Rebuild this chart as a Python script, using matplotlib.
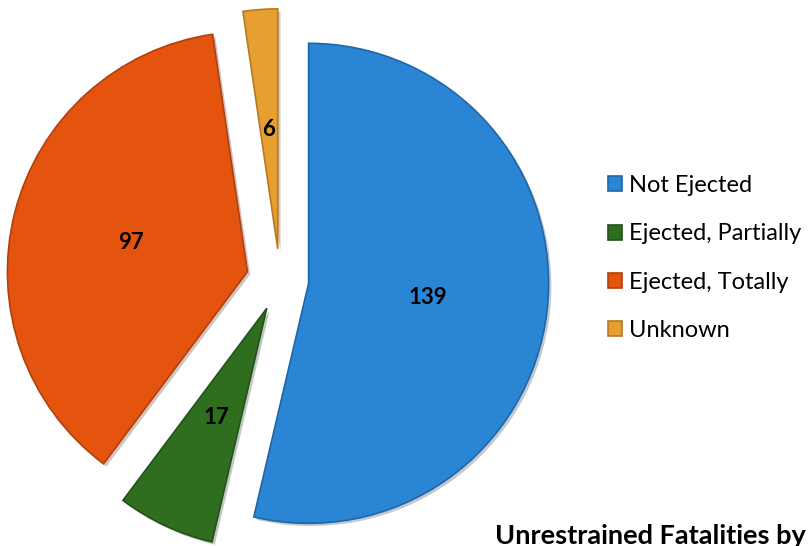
import matplotlib
matplotlib.use('Agg')
import matplotlib.pyplot as plt
import matplotlib.patheffects as pe

plt.rcParams['font.family'] = ['Lato', 'DejaVu Sans']

# 데이터
labels = ['Not Ejected', 'Ejected, Partially', 'Ejected, Totally', 'Unknown']
counts = [139, 17, 97, 6]
colors = ['#2a86d5', '#2f6d1f', '#e5540f', '#e7a030']
edges = ['#1f66a8', '#22521a', '#b2400c', '#b57a22']
explode = [0.12, 0.13, 0.14, 0.13]

R = 240  # 반지름(픽셀)

fig = plt.figure(figsize=(8.11, 5.46), dpi=100)
ax = fig.add_axes([0, 0, 1, 1])

wedges, texts, autotexts = ax.pie(
    counts, colors=colors, explode=[e * R for e in explode], startangle=90,
    counterclock=False, center=(280, 266), radius=R, pctdistance=0.5, frame=True,
    autopct=lambda p: '{:.0f}'.format(p * sum(counts) / 100),
    textprops={'fontsize': 16, 'fontweight': 'bold', 'color': 'black'},
    wedgeprops={'linewidth': 1.2})
for w, ec in zip(wedges, edges):
    w.set_edgecolor(ec)
    w.set_path_effects([pe.SimplePatchShadow(offset=(2, -2), alpha=0.25), pe.Normal()])

ax.set_xlim(0, 811)
ax.set_ylim(0, 546)
ax.set_aspect('equal')
ax.axis('off')

leg = ax.legend(wedges, labels, loc='center left', bbox_to_anchor=(608 / 811, 288 / 546),
                frameon=False, fontsize=17, handlelength=0.6, handleheight=0.6,
                handletextpad=0.3, labelspacing=1.15, borderpad=0, borderaxespad=0)
for h in leg.legend_handles:
    h.set_path_effects([])

fig.text(495 / 811, 2 / 546, 'Unrestrained Fatalities by', fontsize=19.5,
         fontweight='bold', ha='left', va='baseline')

fig.savefig('out.png', dpi=100)
